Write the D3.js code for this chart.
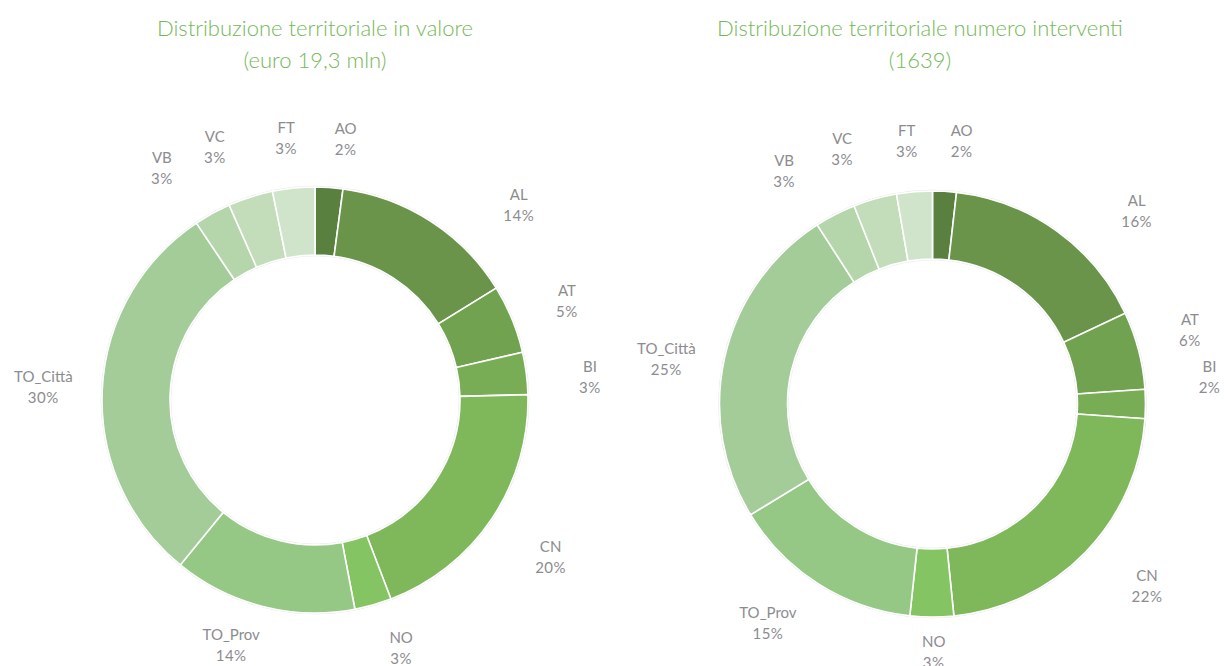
<!DOCTYPE html>
<html><head><meta charset="utf-8">
<script src="https://cdn.jsdelivr.net/npm/d3@7"></script>
<style>body{margin:0;background:#fff}</style>
</head><body>
<svg id="c" width="1224" height="666"></svg>
<script>
const categories = ["AO","AL","AT","BI","CN","NO","TO_Prov","TO_Città","VB","VC","FT"];
const valoreShare = [2.1,14.1,5.2,3.2,19.6,2.8,13.9,29.7,2.8,3.4,3.2];
const interventiShare = [1.8,16.2,5.9,2.2,22.3,3.3,14.6,24.6,3.1,3.3,2.7];
const titleValore = ["Distribuzione territoriale in valore","(euro 19,3 mln)"];
const titleInterventi = ["Distribuzione territoriale numero interventi","(1639)"];

const colors = ["#5a8040","#69944a","#71a250","#79ad55","#7eb85b","#84c463","#95c884","#a3cc99","#b5d5aa","#c3ddbb","#d0e4cb"];
// label fine-tuning (pixel nudges from radial placement)
const nudgeL = [[13,5],[58,29],[4,2],[9,10],[13,7],[13,-11],[-18,-16],[-4,-1],[-24,2],[-19,1],[-2,4]];
const nudgeR = [[14,4],[48,24],[-2,-8],[9,-28],[22,-6],[2,-21],[-21,-8],[-5,14],[-26,4],[-18,2],[-3,3]];

const svg = d3.select("#c");
const R = 213, r = 145, LR = 268;

function donut(cx, cy, values, title, tcx, nudge){
  const g = svg.append("g").attr("transform",`translate(${cx},${cy})`);
  const data = categories.map((c,i)=>({c, v:values[i], i}));
  const pie = d3.pie().value(d=>d.v).sort(null);
  const arcs = pie(data);
  const arc = d3.arc().innerRadius(r).outerRadius(R);
  g.append("circle").attr("r",R+0.8).attr("fill","none").attr("stroke","#e6e6e6").attr("stroke-width",1);
  g.append("circle").attr("r",r-0.8).attr("fill","none").attr("stroke","#ececec").attr("stroke-width",1);
  g.selectAll("path.s").data(arcs).join("path").attr("class","s")
    .attr("d",arc).attr("fill",d=>colors[d.data.i])
    .attr("stroke","#fff").attr("stroke-width",1.6);
  const lab = g.selectAll("g.l").data(arcs).join("g").attr("class","l")
    .attr("transform",d=>{
      const a=(d.startAngle+d.endAngle)/2;
      const n=nudge[d.data.i];
      return `translate(${LR*Math.sin(a)+n[0]},${-LR*Math.cos(a)+n[1]})`;
    });
  lab.append("text").attr("text-anchor","middle").attr("y",-4)
    .attr("font-family","Lato, 'Open Sans', sans-serif").attr("font-size",15).attr("fill","#8c8c90")
    .text(d=>d.data.c);
  lab.append("text").attr("text-anchor","middle").attr("y",17)
    .attr("font-family","Lato, 'Open Sans', sans-serif").attr("font-size",15).attr("fill","#8c8c90")
    .attr("letter-spacing",0.5)
    .text(d=>Math.round(d.data.v)+"%");
  const t = svg.append("text").attr("text-anchor","middle")
    .attr("font-family","Lato, 'Open Sans', sans-serif").attr("font-weight",300).attr("font-size",22).attr("fill","#74b858");
  title.forEach((s,k)=>t.append("tspan").attr("x",tcx).attr("y",36+k*32).text(s));
}
donut(315,400,valoreShare,titleValore,315,nudgeL);
donut(932.5,404,interventiShare,titleInterventi,920,nudgeR);
</script>
</body></html>
